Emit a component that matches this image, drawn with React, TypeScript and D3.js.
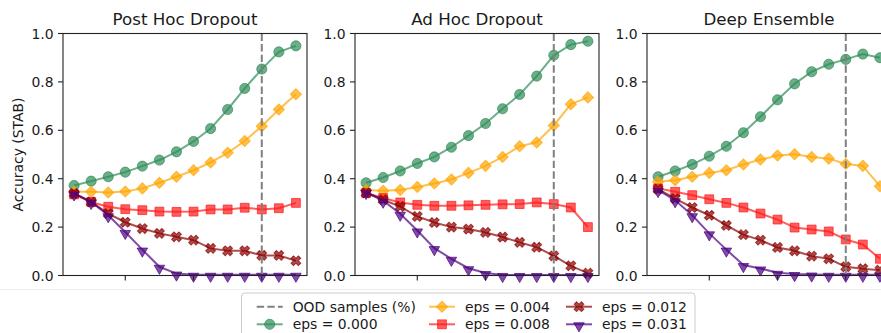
import React from "react";
import * as d3 from "d3";

// x positions are the 14 sample steps; ticks at 3, 7, 11 carry no labels
const steps = d3.range(14);
const xTicks = [3, 7, 11];
const oodStep = 11;
const yTicks = [0, 0.2, 0.4, 0.6, 0.8, 1.0];

const panelTitles = ["Post Hoc Dropout", "Ad Hoc Dropout", "Deep Ensemble"];
const epsLabels = ["eps = 0.000", "eps = 0.004", "eps = 0.008", "eps = 0.012", "eps = 0.031"];

// Post Hoc Dropout
const postHoc000 = [0.372, 0.39, 0.408, 0.427, 0.452, 0.477, 0.511, 0.554, 0.607, 0.686, 0.773, 0.853, 0.924, 0.949];
const postHoc004 = [0.346, 0.346, 0.343, 0.347, 0.36, 0.383, 0.408, 0.435, 0.467, 0.507, 0.556, 0.617, 0.686, 0.749];
const postHoc008 = [0.335, 0.304, 0.284, 0.274, 0.27, 0.264, 0.263, 0.264, 0.273, 0.273, 0.28, 0.273, 0.278, 0.3];
const postHoc012 = [0.339, 0.304, 0.256, 0.22, 0.194, 0.174, 0.16, 0.146, 0.112, 0.102, 0.102, 0.083, 0.083, 0.061];
const postHoc031 = [0.339, 0.304, 0.249, 0.18, 0.107, 0.036, 0.008, 0.003, 0.003, 0.003, 0.003, 0.003, 0.003, 0.003];

// Ad Hoc Dropout
const adHoc000 = [0.383, 0.405, 0.432, 0.463, 0.49, 0.53, 0.578, 0.628, 0.689, 0.748, 0.824, 0.91, 0.954, 0.968];
const adHoc004 = [0.353, 0.35, 0.353, 0.366, 0.38, 0.397, 0.424, 0.453, 0.49, 0.534, 0.55, 0.62, 0.708, 0.736];
const adHoc008 = [0.341, 0.32, 0.302, 0.292, 0.288, 0.288, 0.29, 0.292, 0.294, 0.295, 0.302, 0.295, 0.281, 0.2];
const adHoc012 = [0.341, 0.313, 0.285, 0.244, 0.219, 0.2, 0.192, 0.178, 0.159, 0.137, 0.117, 0.081, 0.04, 0.01];
const adHoc031 = [0.345, 0.309, 0.255, 0.186, 0.113, 0.069, 0.03, 0.01, 0.002, 0.002, 0.002, 0.002, 0.002, 0.002];

// Deep Ensemble
const ens000 = [0.408, 0.432, 0.459, 0.493, 0.534, 0.59, 0.656, 0.726, 0.792, 0.842, 0.873, 0.893, 0.915, 0.9];
const ens004 = [0.387, 0.394, 0.408, 0.424, 0.435, 0.459, 0.479, 0.496, 0.501, 0.49, 0.483, 0.461, 0.453, 0.369];
const ens008 = [0.36, 0.346, 0.332, 0.315, 0.3, 0.281, 0.256, 0.231, 0.198, 0.19, 0.182, 0.149, 0.128, 0.069];
const ens012 = [0.357, 0.318, 0.281, 0.249, 0.207, 0.169, 0.146, 0.116, 0.102, 0.08, 0.069, 0.036, 0.028, 0.022];
const ens031 = [0.353, 0.311, 0.249, 0.174, 0.107, 0.043, 0.029, 0.011, 0.006, 0.004, 0.003, 0.003, 0.003, 0.003];

const panelData = [
  [postHoc000, postHoc004, postHoc008, postHoc012, postHoc031],
  [adHoc000, adHoc004, adHoc008, adHoc012, adHoc031],
  [ens000, ens004, ens008, ens012, ens031],
];

const colors = ["#2e8b57", "#ffa500", "#ff1a1a", "#8b0000", "#4b0082"];
const ALPHA = 0.7;
const FONT = "DejaVu Sans, sans-serif";

const W = 881;
const H = 333;
const panelLeft = [63, 355, 647];
const panelW = 244;
const top = 33.5;
const bottom = 275.5;

const symbolFor = (i: number) => {
  if (i === 0) return { type: d3.symbolCircle, size: 80, rot: 0 };
  if (i === 1) return { type: d3.symbolSquare, size: 62, rot: 45 };
  if (i === 2) return { type: d3.symbolSquare, size: 78, rot: 0 };
  if (i === 3) return { type: d3.symbolCross, size: 60, rot: 45 };
  return { type: d3.symbolTriangle, size: 48, rot: 180 };
};

function Marker({ i, x, y }: { i: number; x: number; y: number }) {
  const s = symbolFor(i);
  const d = d3.symbol().type(s.type).size(s.size)() as string;
  const ty = i === 4 ? 1.5 : 0;
  return (
    <path
      d={d}
      transform={`translate(${x},${y + ty}) rotate(${s.rot})`}
      fill={colors[i]}
      fillOpacity={ALPHA}
      stroke={colors[i]}
      strokeOpacity={ALPHA}
      strokeWidth={1}
    />
  );
}

function Panel({ idx }: { idx: number }) {
  const left = panelLeft[idx];
  const x = d3.scaleLinear().domain([-0.65, 13.65]).range([left, left + panelW]);
  const y = d3.scaleLinear().domain([0, 1]).range([bottom, top]);
  const line = d3
    .line<number>()
    .x((_, j) => x(steps[j]))
    .y((v) => y(v));
  const series = panelData[idx];

  return (
    <g>
      <text x={left + panelW / 2} y={25} textAnchor="middle" fontSize={16.7} fontFamily={FONT} fill="#1a1a1a">
        {panelTitles[idx]}
      </text>
      {series.map((vals, i) => (
        <g key={i}>
          <path d={line(vals) as string} fill="none" stroke={colors[i]} strokeOpacity={ALPHA} strokeWidth={2} />
          {vals.map((v, j) => (
            <Marker key={j} i={i} x={x(steps[j])} y={y(v)} />
          ))}
        </g>
      ))}
      <line
        x1={x(oodStep)}
        x2={x(oodStep)}
        y1={top}
        y2={bottom}
        stroke="#808080"
        strokeWidth={2}
        strokeDasharray="7.4,3.2"
      />
      <rect x={left} y={top} width={panelW} height={bottom - top} fill="none" stroke="#222" strokeWidth={1.1} />
      {xTicks.map((t) => (
        <line key={t} x1={x(t)} x2={x(t)} y1={bottom} y2={bottom + 5} stroke="#222" strokeWidth={1.1} />
      ))}
      {yTicks.map((t) => (
        <g key={t}>
          <line x1={left - 5} x2={left} y1={y(t)} y2={y(t)} stroke="#222" strokeWidth={1.1} />
          <text
            x={left - 9.5}
            y={y(t)}
            dy="0.36em"
            textAnchor="end"
            fontSize={13.9}
            fontFamily={FONT}
            fill="#1a1a1a"
          >
            {t.toFixed(1)}
          </text>
        </g>
      ))}
      {idx === 0 && (
        <text
          transform={`translate(23,${(top + bottom) / 2}) rotate(-90)`}
          textAnchor="middle"
          fontSize={13.9}
          fontFamily={FONT}
          fill="#1a1a1a"
        >
          Accuracy (STAB)
        </text>
      )}
    </g>
  );
}

function Legend() {
  const colX = [256.7, 429, 566];
  const rowY = [306.7, 324.3];
  const handleW = 26;
  const entries = [
    { label: "OOD samples (%)", i: -1 },
    ...epsLabels.map((label, i) => ({ label, i })),
  ];
  return (
    <g>
      <rect x={241.5} y={293} width={453.5} height={56} rx={3} fill="#fff" stroke="#cccccc" strokeWidth={1} />
      {entries.map((e, k) => {
        const cx = colX[Math.floor(k / 2)];
        const cy = rowY[k % 2];
        return (
          <g key={k}>
            {e.i < 0 ? (
              <line x1={cx} x2={cx + handleW} y1={cy} y2={cy} stroke="#808080" strokeWidth={2} strokeDasharray="7.4,3.2" />
            ) : (
              <>
                <line x1={cx} x2={cx + handleW} y1={cy} y2={cy} stroke={colors[e.i]} strokeOpacity={ALPHA} strokeWidth={2} />
                <Marker i={e.i} x={cx + handleW / 2} y={cy} />
              </>
            )}
            <text x={cx + 36} y={cy} dy="0.36em" fontSize={13.9} fontFamily={FONT} fill="#1a1a1a">
              {e.label}
            </text>
          </g>
        );
      })}
    </g>
  );
}

export default function App() {
  return (
    <svg
      width={W}
      height={H}
      style={{ position: "absolute", left: 0, top: 0, background: "#fff" }}
    >
      <rect width={W} height={H} fill="#fff" />
      <line x1={0} x2={W} y1={289.5} y2={289.5} stroke="#ececec" strokeWidth={1} />
      {panelTitles.map((_, i) => (
        <Panel key={i} idx={i} />
      ))}
      <Legend />
    </svg>
  );
}
